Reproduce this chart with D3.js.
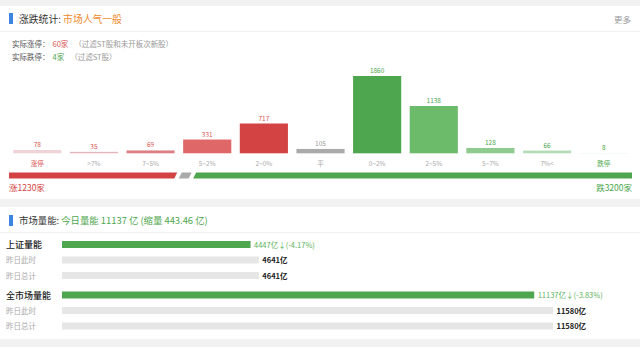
<!DOCTYPE html>
<html><head><meta charset="utf-8">
<script src="https://cdn.jsdelivr.net/npm/d3@7"></script>
<style>body{margin:0;background:#f2f2f2;}svg{display:block;font-family:"Noto Sans CJK SC","Noto Sans",sans-serif;}</style>
</head><body>
<script>
const categories = ["涨停", ">7%", "7~5%", "5~2%", "2~0%", "平", "0~2%", "2~5%", "5~7%", "7%<", "跌停"];
const counts = [78, 35, 69, 331, 717, 105, 1860, 1138, 128, 66, 8];
const barColors = ["#efd3d7", "#e6b5b9", "#dc7f84", "#e06767", "#d44343", "#aaaaaa", "#4ea64e", "#6bbb6b", "#8fcb8f", "#b6dcb6", "#d9eed9"];
const valueColors = ["#d9534f", "#d9534f", "#d9534f", "#d9534f", "#d9534f", "#999999", "#4ea64e", "#4ea64e", "#4ea64e", "#4ea64e", "#4ea64e"];
const labelColors = ["#d9534f", "#aaaaaa", "#aaaaaa", "#aaaaaa", "#aaaaaa", "#aaaaaa", "#aaaaaa", "#aaaaaa", "#aaaaaa", "#aaaaaa", "#4ea64e"];
const breadthNames = ["涨", "平", "跌"];
const breadthValues = [1230, 105, 3200];
const volumeRows = ["上证量能", "昨日此时", "昨日总计", "全市场量能", "昨日此时", "昨日总计"];
const volumeValues = [4447, 4641, 4641, 11137, 11580, 11580];
const volumeLabels = ["4447亿↓(-4.17%)", "4641亿", "4641亿", "11137亿↓(-3.83%)", "11580亿", "11580亿"];

const W = 640, H = 347;
const svg = d3.select("body").append("svg").attr("width", W).attr("height", H);
svg.append("rect").attr("width", W).attr("height", H).attr("fill", "#f2f2f2");
// panels
svg.append("rect").attr("x", 0).attr("y", 6).attr("width", W).attr("height", 193).attr("fill", "#fff");
svg.append("rect").attr("x", 0).attr("y", 207).attr("width", W).attr("height", 132).attr("fill", "#fff");
svg.append("line").attr("x1", 0).attr("x2", W).attr("y1", 31.5).attr("y2", 31.5).attr("stroke", "#f0f0f0");
svg.append("line").attr("x1", 0).attr("x2", W).attr("y1", 232.5).attr("y2", 232.5).attr("stroke", "#f0f0f0");

// header 1
svg.append("rect").attr("x", 9).attr("y", 13).attr("width", 4).attr("height", 11).attr("fill", "#3d86e0");
const t1 = svg.append("text").attr("x", 19).attr("y", 22.5).attr("font-size", 9.8);
t1.append("tspan").attr("fill", "#333").text("涨跌统计: ");
t1.append("tspan").attr("fill", "#ef8a2c").text("市场人气一般");
svg.append("text").attr("x", 631).attr("y", 22.5).attr("text-anchor", "end").attr("font-size", 8.5).attr("fill", "#999").text("更多");

const s1 = svg.append("text").attr("x", 12).attr("y", 47).attr("font-size", 7.5);
s1.append("tspan").attr("fill", "#555").text("实际涨停：");
s1.append("tspan").attr("fill", "#d9534f").attr("dx", 3).text("60家");
s1.append("tspan").attr("fill", "#999").attr("dx", 6).text("（过滤ST股和未开板次新股）");
const s2 = svg.append("text").attr("x", 12).attr("y", 60).attr("font-size", 7.5);
s2.append("tspan").attr("fill", "#555").text("实际跌停：");
s2.append("tspan").attr("fill", "#4ea64e").attr("dx", 3).text("4家");
s2.append("tspan").attr("fill", "#999").attr("dx", 6).text("（过滤ST股）");

// bar chart
const x = d3.scaleBand().domain(categories).range([9, 632]).paddingInner(0.15).paddingOuter(0.075);
const y = d3.scaleLinear().domain([0, 1860]).range([153.3, 76]);
const g = svg.append("g");
g.selectAll("rect.bar").data(categories).join("rect").attr("class", "bar")
  .attr("x", d => x(d)).attr("width", x.bandwidth())
  .attr("y", (d, i) => y(counts[i])).attr("height", (d, i) => y(0) - y(counts[i]))
  .attr("fill", (d, i) => barColors[i]);
g.selectAll("text.val").data(categories).join("text").attr("class", "val")
  .attr("x", d => x(d) + x.bandwidth() / 2).attr("y", (d, i) => y(counts[i]) - 3)
  .attr("text-anchor", "middle").attr("font-size", 6.5)
  .attr("fill", (d, i) => valueColors[i]).text((d, i) => counts[i]);
g.selectAll("text.cat").data(categories).join("text").attr("class", "cat")
  .attr("x", d => x(d) + x.bandwidth() / 2).attr("y", 165.5)
  .attr("text-anchor", "middle").attr("font-size", 6.5)
  .attr("fill", (d, i) => labelColors[i]).text(d => d);

// breadth bar
const total = d3.sum(breadthValues);
const gap = 1.5, slant = 3, by0 = 172.5, bh = 6;
const bx = d3.scaleLinear().domain([0, total]).range([9, 632]);
const bColors = ["#d44343", "#aaaaaa", "#4ea64e"];
let acc = 0;
breadthValues.forEach((v, i) => {
  const a = bx(acc), b = bx(acc + v);
  acc += v;
  const l = i === 0 ? a : a + gap / 2, r = i === 2 ? b : b - gap / 2;
  const pts = [
    [l + (i === 0 ? 0 : slant), by0], [r, by0],
    [r - (i === 2 ? 0 : slant), by0 + bh], [l, by0 + bh]
  ];
  svg.append("path").attr("d", d3.line()(pts) + "Z").attr("fill", bColors[i]);
});
svg.append("text").attr("x", 9).attr("y", 191).attr("font-size", 8.5).attr("fill", "#d44343").text(breadthNames[0] + breadthValues[0] + "家");
svg.append("text").attr("x", 632).attr("y", 191).attr("text-anchor", "end").attr("font-size", 8.5).attr("fill", "#4ea64e").text(breadthNames[2] + breadthValues[2] + "家");

// header 2
svg.append("rect").attr("x", 9).attr("y", 215).attr("width", 4).attr("height", 11).attr("fill", "#3d86e0");
const t2 = svg.append("text").attr("x", 19).attr("y", 224).attr("font-size", 9.4);
t2.append("tspan").attr("fill", "#333").text("市场量能: ");
t2.append("tspan").attr("fill", "#4ea64e").text("今日量能 11137 亿 (缩量 443.46 亿)");

// volume bars
const vx = d3.scaleLinear().domain([0, 11580]).range([62, 553]);
const rowY = [244.5, 260, 275.5, 295, 310.5, 326];
const isMain = [true, false, false, true, false, false];
const vg = svg.append("g");
vg.selectAll("rect").data(volumeValues).join("rect")
  .attr("x", vx(0)).attr("y", (d, i) => rowY[i] - 3.5)
  .attr("width", d => vx(d) - vx(0)).attr("height", 7)
  .attr("fill", (d, i) => isMain[i] ? "#4ea64e" : "#e6e6e6");
vg.selectAll("text.row").data(volumeRows).join("text").attr("class", "row")
  .attr("x", 6).attr("y", (d, i) => rowY[i] + (isMain[i] ? 3.5 : 3))
  .attr("font-size", (d, i) => isMain[i] ? 9 : 7.5)
  .attr("font-weight", (d, i) => isMain[i] ? 500 : 400)
  .attr("fill", (d, i) => isMain[i] ? "#222" : "#aaa").text(d => d);
vg.selectAll("text.vl").data(volumeLabels).join("text").attr("class", "vl")
  .attr("x", (d, i) => vx(volumeValues[i]) + 3.5).attr("y", (d, i) => rowY[i] + 3)
  .attr("font-size", 7.5)
  .attr("font-weight", (d, i) => isMain[i] ? 400 : 600)
  .attr("fill", (d, i) => isMain[i] ? "#5cb35c" : "#222").text(d => d);
</script>
</body></html>
